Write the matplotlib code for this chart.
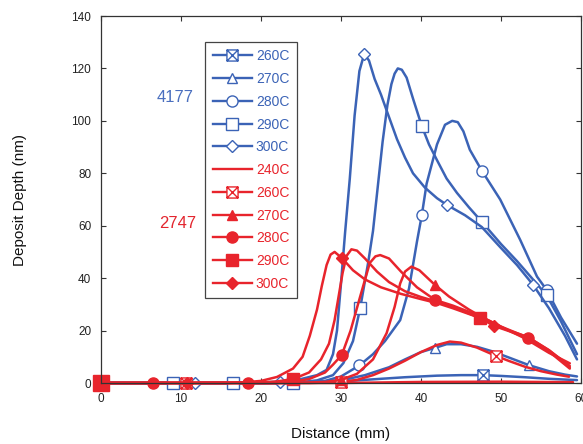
import numpy as np
import matplotlib
matplotlib.use("Agg")
import matplotlib.pyplot as plt
from matplotlib.path import Path
from matplotlib.lines import Line2D

plt.rcParams['font.family'] = ['Liberation Sans', 'DejaVu Sans']

BLUE = '#3b63b6'
RED = '#e8242c'

# ---- data (distance mm, depth nm) ----
b260_x = [0, 20, 26, 30, 34, 38, 42, 45, 47.75, 50, 53, 56, 59.5]
b260_y = [0, 0, 0.2, 0.6, 1.4, 2.2, 2.8, 3.0, 3.0, 2.7, 2.2, 1.6, 1.1]
b260_mx = [47.75]
b260_my = [3.0]

b270_x = [0, 20, 26, 30, 33, 36, 38, 40, 41.75, 43.2, 45, 47, 49, 51, 53.5, 56, 58, 59.5]
b270_y = [0, 0, 0.3, 1.0, 3.0, 6.0, 9.0, 11.8, 13.4, 14.8, 14.8, 13.8, 12.0, 9.7, 6.8, 4.5, 3.2, 2.5]
b270_mx = [41.75, 53.5]
b270_my = [13.4, 6.8]

b280_x = [0, 24, 28, 30, 32.3, 34, 35.5, 37.4, 38.5, 39.5, 40.1, 40.7, 42, 43, 43.9, 44.6, 45.3, 46.1,
          47.6, 49.9, 52.4, 54.5, 55.7, 57.5, 59.5]
b280_y = [0, 0, 0.8, 2.5, 6.7, 11, 16, 24, 36, 54, 64, 76, 91, 98.5, 100, 99.5, 96, 89,
          81, 70, 54.6, 40.6, 35.5, 25, 15]
b280_mx = [32.3, 40.1, 47.6, 55.7]
b280_my = [6.7, 64, 81, 35.5]

b290_x = [0, 9, 16.5, 24, 27, 29, 30.3, 31.5, 32.4, 33.4, 34, 34.6, 35.2, 35.8, 36.3, 36.7, 37.1, 37.6, 38.2,
          39, 40.1, 41, 42, 43.2, 44.5, 46, 47.6, 50, 52, 54, 55.7, 57.5, 59.5]
b290_y = [0, 0, 0, 0, 1, 3, 7.6, 16, 28.6, 46, 58, 75, 92, 106, 114, 118, 120, 119.5, 116.5,
          108.5, 98, 91, 85, 78, 72.5, 67, 61.5, 53, 46.5, 39.5, 33.5, 23.5, 11]
b290_mx = [9, 16.5, 24, 32.4, 40.1, 47.6, 55.7]
b290_my = [0, 0, 0, 28.6, 98, 61.5, 33.5]

b300_x = [0, 11.8, 20, 22.4, 25, 27, 28.2, 29, 29.5, 30, 30.5, 31.1, 31.7, 32.3, 32.9, 33.5,
          34.2, 35, 35.7, 37, 38, 39, 40.5, 42, 43.2, 45.5, 47.6, 50, 52, 54, 56, 58, 59.5]
b300_y = [0, 0, 0.2, 0.5, 1.5, 3, 5, 11, 20, 38, 57, 78, 102, 119, 125.5, 123,
          116, 110, 104, 93, 86, 80, 74.5, 70.5, 68, 64, 59.5, 51.5, 45, 37.5, 28.5, 18, 9]
b300_mx = [11.8, 22.4, 32.9, 43.2, 54]
b300_my = [0, 0.5, 125.5, 68, 37.5]

r240_x = [0, 30, 40, 50, 59]
r240_y = [0, 0, 0.4, 0.5, 0.3]

r260_x = [0, 10.6, 20, 26, 30, 32, 34, 36, 38, 40, 42, 43.6, 45, 47, 49.4, 51, 53, 55, 57, 58.5]
r260_y = [0, 0, 0, 0, 0.3, 1.2, 3, 5.5, 8.5, 11.8, 14.5, 15.8, 15.4, 13.5, 10.3, 8.4, 6.2, 4.5, 3.2, 2.4]
r260_mx = [10.6, 30, 49.4]
r260_my = [0, 0.3, 10.3]

r270_x = [0, 24, 28, 30, 32, 34, 35.7, 36.7, 37.4, 38, 38.8, 39.8, 41.75, 43.5, 46, 48, 50, 53, 56, 58.6]
r270_y = [0, 0, 0.4, 1.2, 3.5, 9, 19, 29, 38, 42.5, 44.4, 43, 37.4, 33, 28, 24.5, 21.5, 17, 11.5, 7.5]
r270_mx = [30, 41.75]
r270_my = [1.2, 37.4]

r280_x = [0, 6.5, 18.4, 22, 24, 26, 28, 29, 30.1, 31.2, 32.4, 33.6, 34.3, 34.9, 36, 37.5, 39.5,
          41.75, 44, 47.4, 50, 53.4, 56, 58.6]
r280_y = [0, 0, 0, 0, 0.5, 1.5, 4, 7, 10.7, 20, 33, 45.8, 48.3, 48.8, 47.5, 42.5, 36.5,
          31.7, 29.5, 25.5, 21.5, 17.3, 12.5, 6.5]
r280_mx = [6.5, 18.4, 30.1, 41.75, 53.4]
r280_my = [0, 0, 10.7, 31.7, 17.3]

r290_x = [0, 20, 22, 24, 26, 27.5, 28.5, 29.2, 29.7, 30.2, 30.7, 31.3, 32, 33, 34.5, 36, 38,
          40, 42, 44, 47.4, 49.1, 51, 53.4, 56, 58.6]
r290_y = [0, 0.2, 0.6, 1.5, 4, 9, 15, 24, 33, 42, 48.5, 51, 50.5, 47.5, 42.5, 38.5, 35,
          32.8, 31, 29, 24.8, 22.3, 20, 17.5, 12.5, 6]
r290_mx = [0, 24, 47.4]
r290_my = [0, 1.5, 24.8]

r300_x = [0, 10.75, 16, 18, 20, 22, 24, 25.2, 26.1, 27, 27.6, 28.2, 28.7, 29.2, 30.1, 31.5, 33,
          35, 37.5, 40, 42, 44, 47.4, 49.1, 51, 53.4, 56, 58.6]
r300_y = [0, 0, 0, 0.3, 0.8, 2.3, 5.5, 10, 18, 28, 37, 45, 49, 50, 47.7, 43, 39.5,
          36.5, 34, 32, 30.5, 28.5, 24.8, 21.8, 19.8, 17, 12, 5.5]
r300_mx = [10.75, 30.1, 49.1]
r300_my = [0, 47.7, 21.8]

labels = ['260C', '270C', '280C', '290C', '300C', '240C', '260C', '270C', '280C', '290C', '300C']

# square with a cross in it
boxx = Path([(-1, -1), (1, -1), (1, 1), (-1, 1), (-1, -1), (-1, -1), (1, 1), (-1, 1), (1, -1)],
            [Path.MOVETO, Path.LINETO, Path.LINETO, Path.LINETO, Path.CLOSEPOLY,
             Path.MOVETO, Path.LINETO, Path.MOVETO, Path.LINETO])

series = [
    (b260_x, b260_y, b260_mx, b260_my, BLUE, boxx, 'white', 8),
    (b270_x, b270_y, b270_mx, b270_my, BLUE, '^', 'white', 7),
    (b280_x, b280_y, b280_mx, b280_my, BLUE, 'o', 'white', 8),
    (b290_x, b290_y, b290_mx, b290_my, BLUE, 's', 'white', 8.5),
    (b300_x, b300_y, b300_mx, b300_my, BLUE, 'D', 'white', 6),
    (r240_x, r240_y, [], [], RED, None, RED, 0),
    (r260_x, r260_y, r260_mx, r260_my, RED, boxx, 'white', 8),
    (r270_x, r270_y, r270_mx, r270_my, RED, '^', RED, 7),
    (r280_x, r280_y, r280_mx, r280_my, RED, 'o', RED, 8),
    (r290_x, r290_y, r290_mx, r290_my, RED, 's', RED, 8.5),
    (r300_x, r300_y, r300_mx, r300_my, RED, 'D', RED, 6),
]

fig = plt.figure(figsize=(5.83, 4.44), dpi=100)
ax = fig.add_axes([101 / 583, 1 - 383 / 444, 480 / 583, 367 / 444])

handles = []
for x, y, mx, my, col, mk, face, ms in series:
    ax.plot(x, y, color=col, lw=1.8, clip_on=False, solid_capstyle='round', solid_joinstyle='round')
    if mk is not None:
        ax.plot(mx, my, ls='none', marker=mk, ms=ms, mfc=face, mec=col, mew=1.0, clip_on=False)
    handles.append(Line2D([], [], color=col, lw=1.7, marker=mk, ms=ms if mk else 0,
                          mfc=face, mec=col, mew=1.0))

# bigger red square at origin
ax.plot([0], [0], ls='none', marker='s', ms=11, color=RED, clip_on=False)

ax.set_xlim(0, 60)
ax.set_ylim(0, 140)
ax.set_xticks(np.arange(0, 61, 10))
ax.set_yticks(np.arange(0, 141, 20))
ax.tick_params(direction='in', top=True, right=True, length=3.5, width=0.8,
               labelsize=8.5, labelcolor='#222222', color='#333333', pad=7)
for s in ax.spines.values():
    s.set_color('#333333')
    s.set_linewidth(0.9)

ax.set_xlabel('Distance (mm)', fontsize=11, labelpad=16, color='#111111')
ax.set_ylabel('Deposit Depth (nm)', fontsize=11, labelpad=32, color='#111111')

ax.text(9.25, 109, '4177', color='#4a6fbf', fontsize=12, ha='center', va='center')
ax.text(9.6, 61, '2747', color='#e3262f', fontsize=12, ha='center', va='center')

leg = ax.legend(handles, labels, loc='upper left', bbox_to_anchor=(0.217, 0.93),
                fontsize=10, labelcolor='linecolor', frameon=True, fancybox=False,
                edgecolor='#444444', framealpha=1, handlelength=2.8, handletextpad=0.3,
                labelspacing=0.63, borderpad=0.55, borderaxespad=0)
leg.get_frame().set_linewidth(0.9)

fig.savefig('out.png', dpi=100)
